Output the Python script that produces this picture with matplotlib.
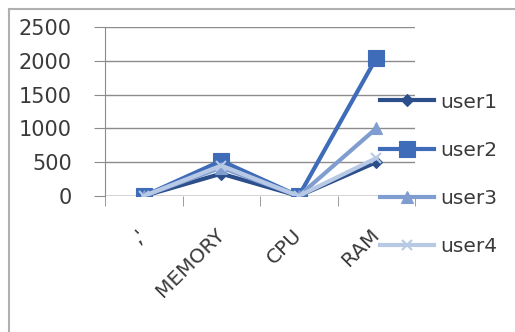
import matplotlib
matplotlib.use("Agg")
import matplotlib.pyplot as plt
from matplotlib.lines import Line2D

categories = [",'", "MEMORY", "CPU", "RAM"]
series_names = ["user1", "user2", "user3", "user4"]
user1 = [0, 330, 0, 500]
user2 = [0, 520, 0, 2040]
user3 = [0, 420, 0, 1000]
user4 = [0, 450, 0, 560]
y_ticks = [0, 500, 1000, 1500, 2000, 2500]

series = [user1, user2, user3, user4]
colors = ["#2c4f8c", "#3f6cb8", "#7f9dcf", "#b8c9e6"]
markers = ["D", "s", "^", "x"]
msizes = [6, 11, 9, 7]

plt.rcParams["font.family"] = ["DejaVu Sans"]
text_color = "#3a3a3a"

fig = plt.figure(figsize=(5.15, 3.32), dpi=100)
fig.patch.set_facecolor("white")

# chart border (left and top edges)
fig.add_artist(Line2D([8.5 / 515, 8.5 / 515], [0, 1 - 8.5 / 332], color="#b0b0b0", lw=1.5))
fig.add_artist(Line2D([8.5 / 515, 1.0], [1 - 8.5 / 332, 1 - 8.5 / 332], color="#b0b0b0", lw=1.5))

ax = fig.add_axes([105 / 515, 1 - 196 / 332, 310 / 515, 169 / 332])
x = list(range(len(categories)))

draw_order = [3, 2, 0, 1]
for i in draw_order:
    ax.plot(x, series[i], color=colors[i], lw=3, marker=markers[i],
            markersize=msizes[i], markeredgewidth=1.5 if markers[i] == "x" else 0.8,
            markeredgecolor=colors[i], label=series_names[i], zorder=3 + i,
            solid_joinstyle="round")

ax.set_xlim(-0.5, len(categories) - 0.5)
ax.set_ylim(0, 2500)
ax.set_yticks(y_ticks)
ax.set_yticklabels([str(v) for v in y_ticks])
ax.yaxis.grid(True, color="#8c8c8c", lw=1)
ax.set_axisbelow(True)
for s in ["top", "right", "bottom"]:
    ax.spines[s].set_visible(False)
ax.spines["left"].set_color("#8c8c8c")
ax.axhline(0, color="#8c8c8c", lw=1, zorder=1)

ax.tick_params(axis="y", length=8, color="#8c8c8c", labelsize=15,
               labelcolor=text_color, pad=16)
ax.set_xticks(x)
ax.set_xticklabels(categories)
ax.tick_params(axis="x", length=0, labelsize=14.5, labelcolor=text_color, pad=26)
for lab in ax.get_xticklabels():
    lab.set_rotation(45)
    lab.set_rotation_mode("anchor")
    lab.set_ha("right")
    lab.set_va("center")

# category separator ticks
ax.set_xticks([-0.5, 0.5, 1.5, 2.5, 3.5], minor=True)
ax.tick_params(axis="x", which="minor", length=7, color="#8c8c8c")

handles, labels = ax.get_legend_handles_labels()
order = [labels.index(n) for n in series_names]
leg = ax.legend([handles[k] for k in order], [labels[k] for k in order],
                loc="upper left", bbox_to_anchor=(0.86, 0.66),
                frameon=False, fontsize=14.5, labelspacing=1.45,
                handlelength=2.7, handletextpad=0.3, borderaxespad=0)
for t in leg.get_texts():
    t.set_color(text_color)
ax.patch.set_alpha(0)

fig.savefig("out.png", dpi=100, facecolor="white")
